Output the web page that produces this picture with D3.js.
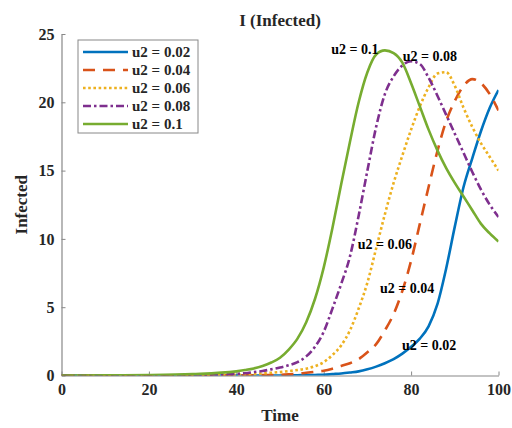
<!DOCTYPE html>
<html>
<head>
<meta charset="utf-8">
<script src="https://cdn.jsdelivr.net/npm/d3@7"></script>
<style>
  body { margin: 0; background: #fff; }
  svg text { font-family: "Liberation Serif", "Times New Roman", serif; font-weight: bold; fill: #262626; }
</style>
</head>
<body>
<svg id="canvas" width="512" height="428"></svg>
<script>
let time = [0, 10, 20, 30, 40, 42, 44, 46, 48, 50, 52, 54, 56, 58, 60, 62, 64, 66, 68, 70,
            72, 74, 76, 78, 80, 82, 84, 86, 88, 90, 92, 94, 96, 98, 100];

let seriesNames = ['u2 = 0.02', 'u2 = 0.04', 'u2 = 0.06', 'u2 = 0.08', 'u2 = 0.1'];

let u002 = [0, 0, 0, 0, 0, 0, 0, 0, 0, 0, 0.01, 0.02, 0.03, 0.04, 0.05, 0.1, 0.15, 0.22, 0.3, 0.45,
            0.65, 0.9, 1.2, 1.6, 2.1, 2.7, 3.6, 5.2, 7.8, 10.9, 13.8, 15.9, 17.9, 19.6, 20.9];
let u004 = [0, 0, 0, 0, 0.01, 0.01, 0.02, 0.03, 0.04, 0.05, 0.08, 0.12, 0.2, 0.27, 0.35, 0.5, 0.7, 0.9, 1.2, 1.7,
            2.3, 3.3, 4.5, 6.2, 8.4, 11.1, 13.8, 16.4, 18.6, 20.1, 21.2, 21.7, 21.4, 20.6, 19.4];
let u006 = [0, 0, 0, 0.01, 0.05, 0.07, 0.1, 0.15, 0.2, 0.25, 0.32, 0.4, 0.5, 0.68, 0.98, 1.5, 2.2, 3.3, 4.9, 6.8,
            9.3, 11.8, 14.1, 16.1, 18.0, 19.7, 21.1, 22.1, 22.2, 21.2, 19.6, 18.2, 17.0, 16.0, 15.0];
let u008 = [0, 0, 0.01, 0.03, 0.12, 0.17, 0.25, 0.33, 0.45, 0.58, 0.75, 0.98, 1.4, 2.1, 3.2, 4.9, 6.7, 8.7, 11.7, 15.0,
            18.2, 20.6, 21.9, 22.7, 23.0, 22.8, 21.8, 20.5, 19.1, 17.7, 16.3, 14.9, 13.6, 12.5, 11.6];
let u010 = [0, 0.01, 0.03, 0.1, 0.3, 0.4, 0.52, 0.7, 0.95, 1.3, 1.9, 2.7, 3.9, 5.6, 7.9, 10.8, 14.0, 17.1, 20.0, 22.2,
            23.5, 23.8, 23.6, 22.9, 21.4, 19.7, 18.0, 16.5, 15.2, 14.1, 13.1, 12.1, 11.1, 10.4, 9.8];

let xTicks = [0, 20, 40, 60, 80, 100];
let yTicks = [0, 5, 10, 15, 20, 25];

// annotation labels: text, time, value
let annoText = ['u2 = 0.1', 'u2 = 0.08', 'u2 = 0.06', 'u2 = 0.04', 'u2 = 0.02'];
let annoTime = [61.7, 78.1, 67.8, 72.9, 77.9];
let annoValue = [23.9, 23.4, 9.6, 6.4, 2.2];

let colors = ['#0072BD', '#D95319', '#EDB120', '#7E2F8E', '#77AC30'];
let dashes = [null, '12,8', '2.6,2.6', '8,3,2.5,3', null];

let allSeries = [u002, u004, u006, u008, u010];

let svg = d3.select('#canvas');
let x = d3.scaleLinear().domain([0, 100]).range([61.5, 498.5]);
let y = d3.scaleLinear().domain([0, 25]).range([375.5, 34]);

// axes
let xAxis = svg.append('g')
  .attr('transform', 'translate(0,' + y(0) + ')')
  .call(d3.axisBottom(x).tickValues(xTicks).tickSizeInner(-4).tickSizeOuter(0).tickPadding(7));
let yAxis = svg.append('g')
  .attr('transform', 'translate(' + x(0) + ',0)')
  .call(d3.axisLeft(y).tickValues(yTicks).tickSizeInner(-4).tickSizeOuter(0).tickPadding(7));

[xAxis, yAxis].forEach(a => {
  a.attr('font-family', '"Liberation Serif", serif').attr('font-size', 16);
  a.select('.domain').attr('stroke', '#888').attr('stroke-width', 1.2);
  a.selectAll('.tick line').attr('stroke', '#888');
  a.selectAll('.tick text')
    .style('font-family', '"Liberation Serif", serif')
    .style('font-size', '16px')
    .style('font-weight', 'bold')
    .attr('fill', '#262626');
});
xAxis.selectAll('.tick text').attr('dy', '0.75em');

// lines
let line = d3.line()
  .x((d, i) => x(time[i]))
  .y(d => y(d))
  .curve(d3.curveMonotoneX);

svg.append('defs').append('clipPath').attr('id', 'clip')
  .append('rect').attr('x', x(0)).attr('y', y(25)).attr('width', x(100) - x(0)).attr('height', y(0) - y(25));

svg.append('g').attr('clip-path', 'url(#clip)')
  .selectAll('path')
  .data(allSeries)
  .enter()
  .append('path')
  .attr('d', d => line(d))
  .attr('fill', 'none')
  .attr('stroke', (d, i) => colors[i])
  .attr('stroke-width', 2.6)
  .attr('stroke-dasharray', (d, i) => dashes[i]);

// annotations
svg.selectAll('.anno')
  .data(annoText)
  .enter()
  .append('text')
  .attr('class', 'anno')
  .attr('x', (d, i) => x(annoTime[i]))
  .attr('y', (d, i) => y(annoValue[i]))
  .attr('dy', '0.35em')
  .style('font-size', '14px')
  .style('fill', '#000')
  .text(d => d);

// title and labels
svg.append('text')
  .attr('x', 280).attr('y', 26)
  .attr('text-anchor', 'middle')
  .style('font-size', '17px')
  .text('I (Infected)');

svg.append('text')
  .attr('x', (x(0) + x(100)) / 2).attr('y', 421)
  .attr('text-anchor', 'middle')
  .style('font-size', '17px')
  .text('Time');

svg.append('text')
  .attr('transform', 'translate(27,' + ((y(0) + y(25)) / 2) + ') rotate(-90)')
  .attr('text-anchor', 'middle')
  .style('font-size', '17px')
  .text('Infected');

// legend
let legend = svg.append('g').attr('transform', 'translate(78,40)');
legend.append('rect')
  .attr('width', 120).attr('height', 93)
  .attr('fill', '#fff').attr('stroke', '#888').attr('stroke-width', 1);

let item = legend.selectAll('.legend-item')
  .data(seriesNames)
  .enter()
  .append('g')
  .attr('class', 'legend-item')
  .attr('transform', (d, i) => 'translate(0,' + (12 + i * 18) + ')');

item.append('line')
  .attr('x1', 5).attr('x2', 50)
  .attr('stroke', (d, i) => colors[i])
  .attr('stroke-width', 2.6)
  .attr('stroke-dasharray', (d, i) => dashes[i]);

item.append('text')
  .attr('x', 54).attr('dy', '0.35em')
  .style('font-size', '15px')
  .text(d => d);
</script>
</body>
</html>
